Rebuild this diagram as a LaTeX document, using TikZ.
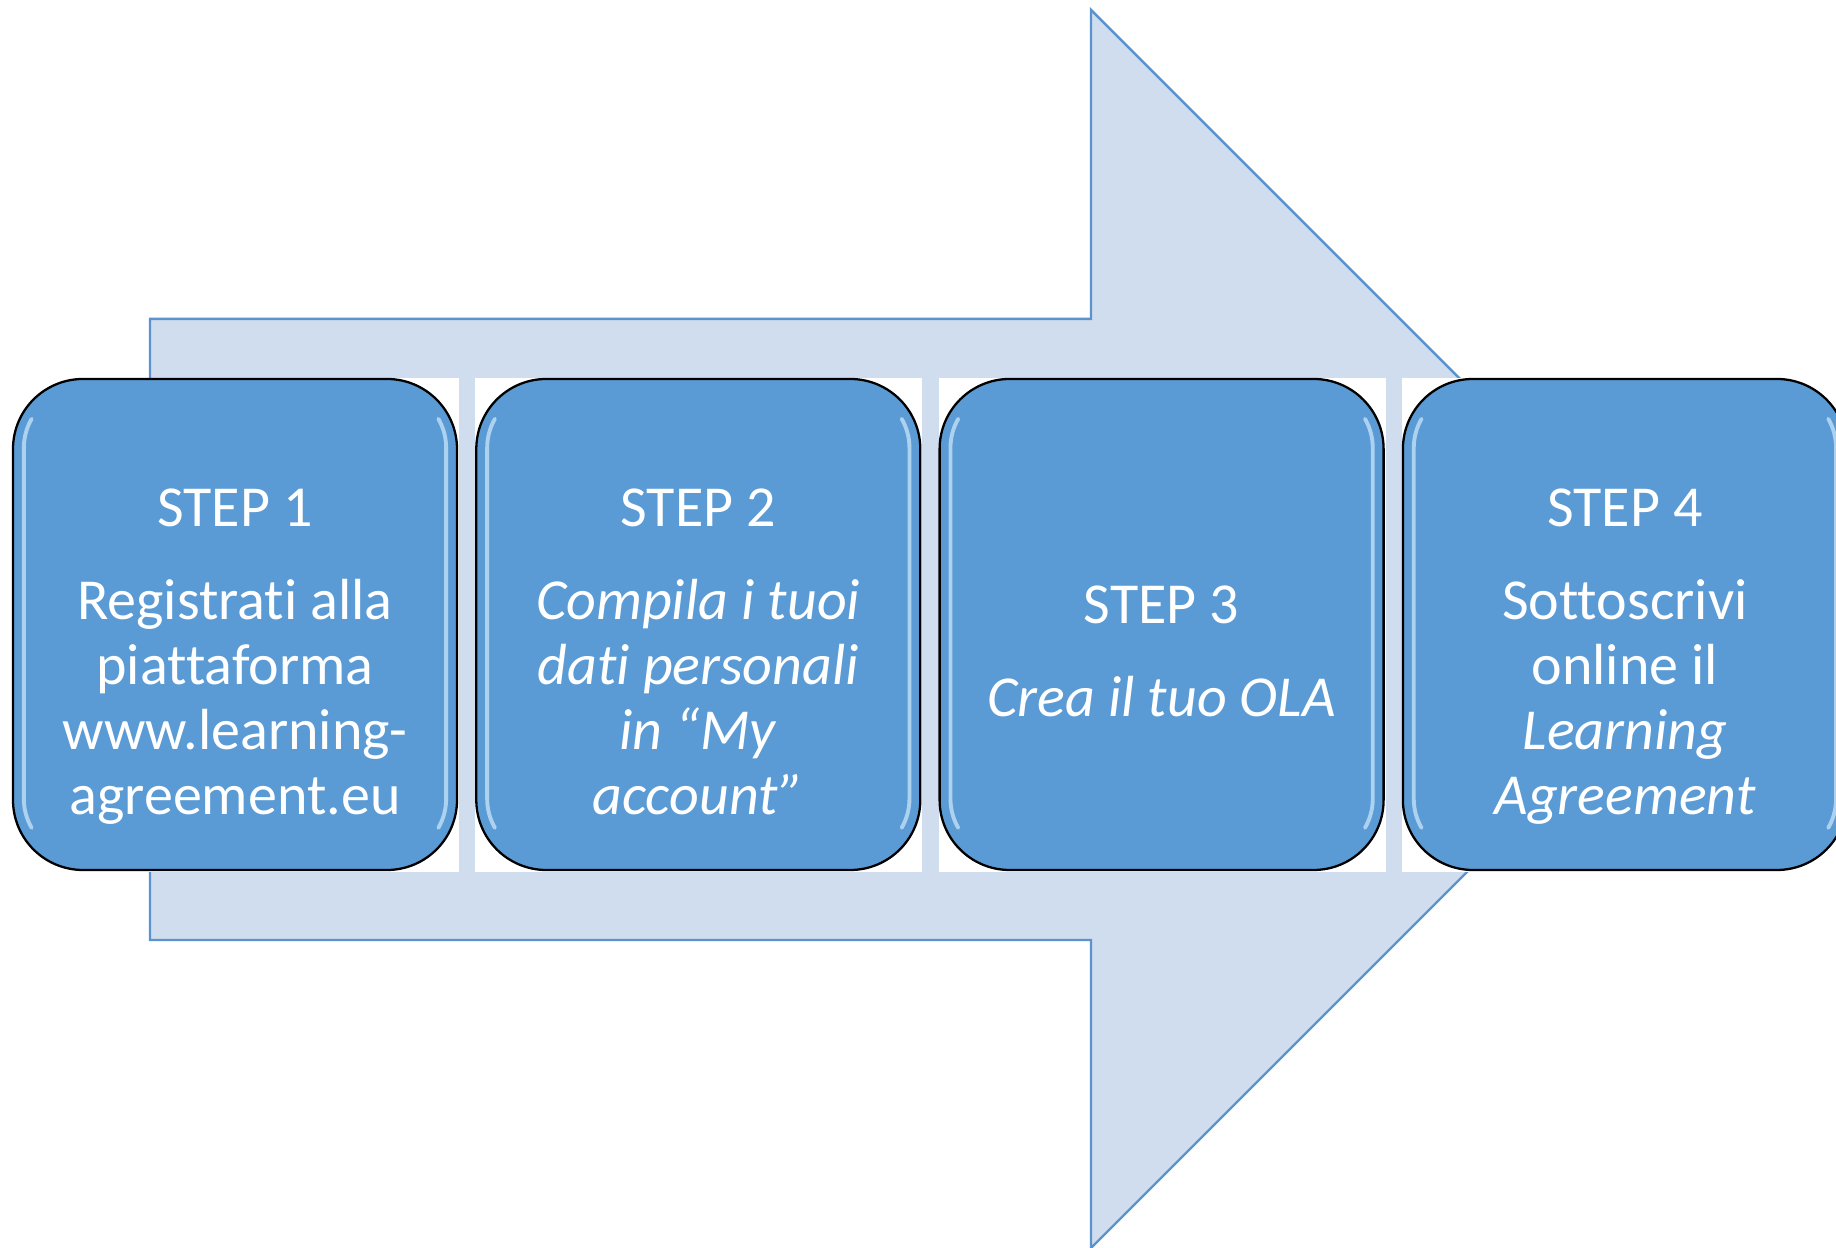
\documentclass[tikz,border=0pt]{standalone}
\usepackage{fontspec}
\setmainfont{Carlito}[Ligatures=NoCommon]
\usepackage{tikz}
\usetikzlibrary{positioning}
\definecolor{boxblue}{HTML}{5B9BD5}
\definecolor{arrowfill}{HTML}{D0DDEF}
\definecolor{arrowline}{HTML}{5B93CF}
\definecolor{shinecol}{HTML}{D8F1FF}
\tikzstyle{stepbox} = [rectangle, rounded corners=0.7cm, minimum width=4.44cm,
minimum height=4.91cm, inner sep=0pt, draw=black, line width=0.65pt, fill=boxblue]
\tikzstyle{steptext} = [text=white, align=center, text depth=3.5pt,
font=\fontsize{16.5pt}{18.5pt}\selectfont]
\tikzstyle{shine} = [draw=shinecol, line width=1.1pt, opacity=0.65, line cap=round]
\tikzstyle{bigarrow} = [fill=arrowfill, draw=arrowline, line width=0.7pt]

\begin{document}
\begin{tikzpicture}[node distance=4.633cm]
\useasboundingbox (0,0) rectangle (18.36,12.48);

% big arrow behind the steps
\draw[bigarrow] (1.50,9.29) -- (10.91,9.29) -- (10.91,12.38) -- (17.10,6.19)
-- (10.91,0.00) -- (10.91,3.08) -- (1.50,3.08) -- cycle;

% white backgrounds of the steps
\foreach \i in {0,...,3}
\fill[white] (0.12+4.633*\i,3.76) rectangle (4.59+4.633*\i,8.70);

\node(step1)[stepbox] at (2.35,6.235){};
\node(step2)[stepbox, right of=step1]{};
\node(step3)[stepbox, right of=step2]{};
\node(step4)[stepbox, right of=step3]{};

% bevel highlights
\foreach \s in {step1,step2,step3,step4}{
\draw[shine] ([xshift=0.7cm, yshift=-0.7cm]\s.north west) ++(150:0.58)
arc[start angle=150, end angle=180, radius=0.58] -- ++(0,-3.51)
arc[start angle=180, end angle=210, radius=0.58];
\draw[shine] ([xshift=-0.7cm, yshift=-0.7cm]\s.north east) ++(30:0.58)
arc[start angle=30, end angle=0, radius=0.58] -- ++(0,-3.51)
arc[start angle=0, end angle=-30, radius=0.58];
}

\node(text1)[steptext, below of=step1, node distance=0.33cm]{STEP 1\\[8pt]
Registrati alla\\ piattaforma\\ www.learning-\\ agreement.eu};
\node(text2)[steptext, below of=step2, node distance=0.33cm]{STEP 2\\[8pt]
\textit{Compila i tuoi}\\ \textit{dati personali}\\ \textit{in “My}\\
\textit{account”}};
\node(text3)[steptext, below of=step3, node distance=0.33cm]{STEP 3\\[8pt]
\textit{Crea il tuo OLA}};
\node(text4)[steptext, below of=step4, node distance=0.33cm]{STEP 4\\[8pt]
Sottoscrivi\\ online il\\ \textit{Learning}\\ \textit{Agreement}};

\end{tikzpicture}
\end{document}
